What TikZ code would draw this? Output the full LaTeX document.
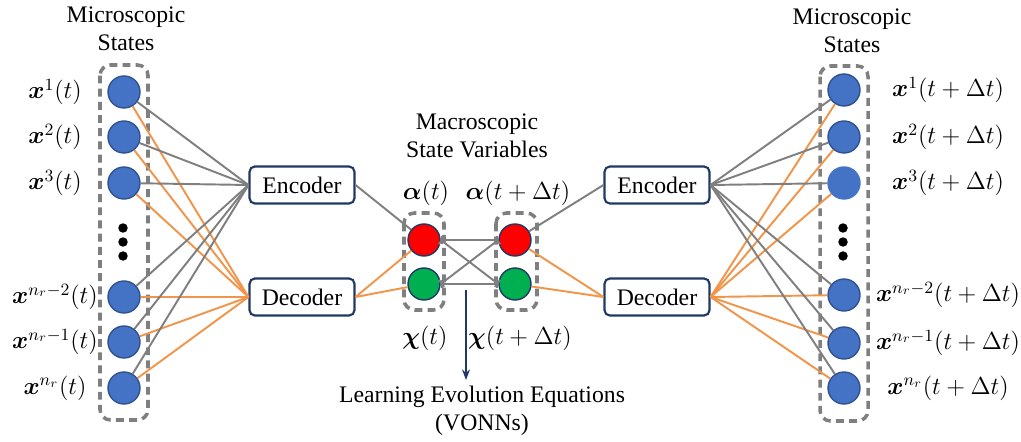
\documentclass[tikz,border=0pt]{standalone}
\usepackage{fix-cm}
\usepackage{amsmath, bm}
\usepackage{fontspec}
\setmainfont{Liberation Serif}
\usepackage{tikz}
\usetikzlibrary{arrows.meta}

\definecolor{microblue}{HTML}{4472C4}
\definecolor{circedge}{HTML}{2F528F}
\definecolor{boxnavy}{HTML}{203864}
\definecolor{linkgray}{HTML}{7F7F7F}
\definecolor{linkorange}{HTML}{F0954A}
\definecolor{macrored}{HTML}{FF0000}
\definecolor{macrogreen}{HTML}{00B050}

\begin{document}
\begin{tikzpicture}[x=0.02cm, y=-0.02cm,
		every node/.style={font=\fontsize{13.5}{16}\selectfont},
		micro/.style={circle, fill=microblue, draw=circedge, line width=0.8pt, minimum size=0.64cm, inner sep=0pt},
		microflat/.style={micro, draw=microblue},
		macro/.style={micro, draw=boxnavy},
		codebox/.style={draw=boxnavy, line width=1.2pt, rounded corners=3pt, fill=white, minimum width=2.1cm, minimum height=0.74cm, inner sep=0pt},
		grouping/.style={draw=linkgray, line width=2pt, dash pattern=on 4.5pt off 3pt, rounded corners=6pt},
		graylink/.style={draw=linkgray, line width=1.1pt},
		orangelink/.style={draw=linkorange, line width=1.1pt},
		caption/.style={align=center},
		varlabel/.style={font=\fontsize{14}{17}\selectfont, inner sep=0pt},
	]
	\useasboundingbox (0,0) rectangle (1021,442);
	
	% dashed groups
	\draw[grouping] (100,65) rectangle (148,420);
	\draw[grouping] (820,66) rectangle (868,421);
	\draw[grouping] (404,213) rectangle (444,310);
	\draw[grouping] (496,213) rectangle (537,310);
	
	\node[caption] (microL) at (126,29) {Microscopic\\States};
	\node[caption] (microR) at (852,31) {Microscopic\\States};
	\node[caption] (macroT) at (477,136) {Macroscopic\\State Variables};
	\node[caption] (learn) at (482,411) {Learning Evolution Equations\\(VONNs)};
	
	% microscopic states at t
	\foreach \y/\s [count=\i] in {92/1, 137/2, 183/3, 297/n_r-2, 342/n_r-1, 388/n_r}{
		\node[micro] (l\i) at (124,\y) {};
		\node[varlabel] (xl\i) at (55,\y) {$\bm{x}^{\s}(t)$};
	}
	% microscopic states at t + dt
	\foreach \y/\s/\st [count=\i] in {90/1/micro, 137/2/micro, 183/3/microflat, 295/n_r-2/micro, 343/n_r-1/micro, 388/n_r/micro}{
		\node[\st] (r\i) at (844,\y) {};
		\node[varlabel] (xr\i) at (948,\y) {$\bm{x}^{\s}(t+\Delta t)$};
	}
	\foreach \y in {228, 242, 256}{
		\fill (123,\y) circle [radius = 2.7pt];
		\fill (843,\y) circle [radius = 2.7pt];
	}
	
	\node[codebox] (encL) at (302,185) {Encoder};
	\node[codebox] (decL) at (302,297) {Decoder};
	\node[codebox] (encR) at (657,185) {Encoder};
	\node[codebox] (decR) at (657,297) {Decoder};
	
	\foreach \i in {1,...,6}{
		\draw[graylink] (l\i) -- (encL.west);
		\draw[orangelink] (l\i) -- (decL.west);
		\draw[graylink] (encR.east) -- (r\i);
		\draw[orangelink] (decR.east) -- (r\i);
	}
	
	% macroscopic variables
	\node[macro, fill=macrored] (a1) at (424,240) {};
	\node[macro, fill=macrogreen] (c1) at (424,284) {};
	\node[macro, fill=macrored] (a2) at (515,240) {};
	\node[macro, fill=macrogreen] (c2) at (515,284) {};
	
	\node[varlabel] (alab1) at (426,193) {$\bm{\alpha}(t)$};
	\node[varlabel] (alab2) at (518,193) {$\bm{\alpha}(t+\Delta t)$};
	\node[varlabel] (clab1) at (425,338) {$\bm{\chi}(t)$};
	\node[varlabel] (clab2) at (520,338) {$\bm{\chi}(t+\Delta t)$};
	
	\draw[graylink] (encL.east) -- (a1);
	\draw[orangelink] (decL.east) -- (a1);
	\draw[orangelink] (decL.east) -- (c1);
	\draw[graylink] (a2) -- (encR.west);
	\draw[orangelink] (a2) -- (decR.west);
	\draw[orangelink] (c2) -- (decR.west);
	
	\begin{scope}[graylink, {Bar[width=5pt]}-{Bar[width=5pt]}]
		\draw (a1.east) -- (a2.west);
		\draw (c1.east) -- (c2.west);
		\draw (a1.east) -- (c2.west);
		\draw (c1.east) -- (a2.west);
	\end{scope}
	
	\coordinate (evoltop) at (466,290);
	\coordinate (evolend) at (466,380);
	\draw[boxnavy, line width=1pt, -{Stealth[length=6pt, width=4.5pt]}] (evoltop) -- (evolend);
\end{tikzpicture}
\end{document}
